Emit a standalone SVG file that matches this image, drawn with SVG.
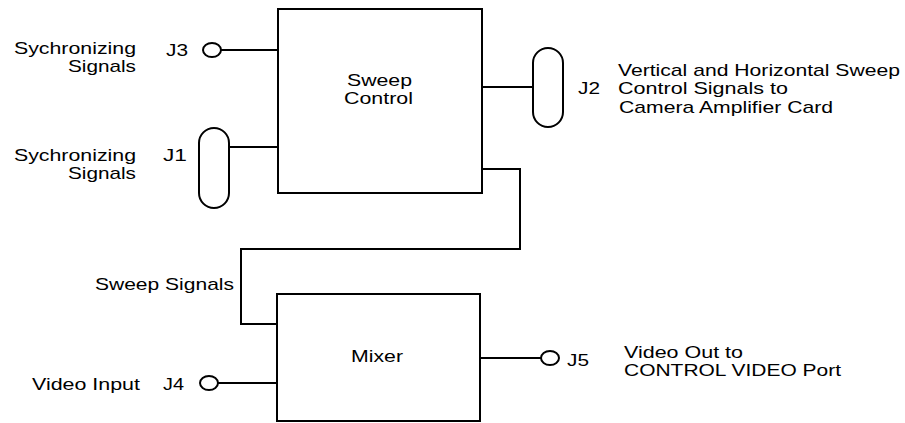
<svg xmlns="http://www.w3.org/2000/svg" width="905" height="423" viewBox="0 0 905 423">
<style>
text{font-family:"Liberation Sans",Arial,sans-serif;font-size:17px;fill:#000}
.s{fill:none;stroke:#000;stroke-width:2}
</style>
<rect width="905" height="423" fill="#fff"/>
<g id="connectors">
<path class="s" d="M221,50 H278"/>
<path class="s" d="M229,147 H278"/>
<path class="s" d="M482,87 H533"/>
<path class="s" d="M482,169 H520 V249 H241 V324 H277"/>
<path class="s" d="M218,383 H277"/>
<path class="s" d="M480,358 H541"/>
</g>
<g id="sweep-control">
<rect class="s" x="278" y="9" width="204" height="184"/>
<text x="347" y="86" textLength="65" lengthAdjust="spacingAndGlyphs">Sweep</text>
<text x="344" y="104" textLength="69" lengthAdjust="spacingAndGlyphs">Control</text>
</g>
<g id="mixer">
<rect class="s" x="277" y="294" width="203" height="127"/>
<text x="351" y="362" textLength="52" lengthAdjust="spacingAndGlyphs">Mixer</text>
</g>
<g id="j3">
<ellipse class="s" cx="212" cy="50" rx="9" ry="7"/>
<text x="166" y="56" textLength="22" lengthAdjust="spacingAndGlyphs">J3</text>
<text x="14" y="54" textLength="122" lengthAdjust="spacingAndGlyphs">Sychronizing</text>
<text x="68" y="72" textLength="68" lengthAdjust="spacingAndGlyphs">Signals</text>
</g>
<g id="j1">
<rect class="s" x="199" y="128" width="30" height="80" rx="15" ry="15"/>
<text x="163" y="161" textLength="24" lengthAdjust="spacingAndGlyphs">J1</text>
<text x="14" y="161" textLength="122" lengthAdjust="spacingAndGlyphs">Sychronizing</text>
<text x="68" y="179" textLength="68" lengthAdjust="spacingAndGlyphs">Signals</text>
</g>
<g id="j2">
<rect class="s" x="533" y="48" width="30" height="79" rx="15" ry="15"/>
<text x="578" y="94" textLength="22" lengthAdjust="spacingAndGlyphs">J2</text>
<text x="618" y="76" textLength="282" lengthAdjust="spacingAndGlyphs">Vertical and Horizontal Sweep</text>
<text x="618" y="94" textLength="170" lengthAdjust="spacingAndGlyphs">Control Signals to</text>
<text x="619" y="113" textLength="214" lengthAdjust="spacingAndGlyphs">Camera Amplifier Card</text>
</g>
<g id="sweep-signals-label">
<text x="95" y="290" textLength="139" lengthAdjust="spacingAndGlyphs">Sweep Signals</text>
</g>
<g id="j4">
<ellipse class="s" cx="209" cy="383" rx="9" ry="7"/>
<text x="163" y="390" textLength="21" lengthAdjust="spacingAndGlyphs">J4</text>
<text x="32" y="390" textLength="108" lengthAdjust="spacingAndGlyphs">Video Input</text>
</g>
<g id="j5">
<ellipse class="s" cx="550" cy="358" rx="9" ry="7"/>
<text x="567" y="366" textLength="22" lengthAdjust="spacingAndGlyphs">J5</text>
<text x="624" y="358" textLength="119" lengthAdjust="spacingAndGlyphs">Video Out to</text>
<text x="624" y="376" textLength="217" lengthAdjust="spacingAndGlyphs">CONTROL VIDEO Port</text>
</g>
</svg>
